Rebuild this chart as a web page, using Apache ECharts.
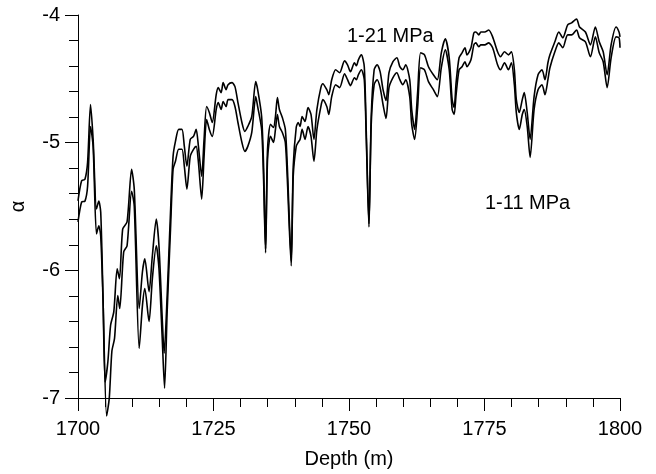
<!DOCTYPE html>
<html>
<head>
<meta charset="utf-8">
<script src="https://cdn.jsdelivr.net/npm/echarts@6/dist/echarts.min.js"></script>
<style>
  html, body { margin: 0; padding: 0; background: #fff; }
  #chart { width: 656px; height: 474px; }
</style>
</head>
<body>
<div id="chart"></div>
<script>
// depth (m) and alpha for the 1-21 MPa curve (upper)
const depth21 = [1700.00, 1700.67, 1701.28, 1701.77, 1702.31, 1702.79, 1703.41, 1703.83, 1704.19, 1704.61,
  1705.01, 1705.52, 1706.01, 1706.61, 1707.23, 1707.65, 1708.25, 1709.05, 1709.89, 1710.38,
  1711.29, 1711.89, 1712.33, 1713.11, 1713.72, 1714.44, 1714.94, 1715.54, 1715.90, 1716.45,
  1717.07, 1717.54, 1717.98, 1718.58, 1719.18, 1719.62, 1720.09, 1720.71, 1721.31, 1721.80,
  1722.22, 1722.82, 1723.26, 1723.73, 1724.23, 1724.77, 1725.50, 1725.87, 1726.41, 1726.78,
  1727.32, 1727.69, 1728.42, 1728.96, 1729.51, 1730.24, 1730.78, 1731.33, 1732.06, 1732.79,
  1733.15, 1733.88, 1734.24, 1734.61, 1734.97, 1735.52, 1736.07, 1736.43, 1736.79, 1737.16,
  1737.70, 1738.25, 1738.62, 1739.34, 1739.71, 1740.26, 1740.62, 1740.98, 1741.35, 1741.89,
  1742.44, 1742.99, 1743.53, 1744.08, 1744.81, 1745.17, 1745.90, 1746.27, 1746.81, 1747.54,
  1748.27, 1749.18, 1749.73, 1750.27, 1751.00, 1751.37, 1751.73, 1752.28, 1752.82, 1753.19,
  1753.68, 1754.10, 1754.64, 1755.19, 1755.74, 1756.28, 1756.83, 1757.38, 1758.11, 1758.83,
  1759.38, 1759.93, 1760.47, 1761.20, 1761.57, 1762.11, 1762.66, 1763.21, 1763.93, 1764.66,
  1765.57, 1766.30, 1767.03, 1767.76, 1768.49, 1769.03, 1769.40, 1769.76, 1770.31, 1770.86,
  1771.40, 1771.77, 1772.50, 1773.04, 1773.41, 1773.95, 1774.32, 1775.05, 1775.77, 1776.50,
  1777.41, 1777.96, 1778.69, 1779.42, 1779.96, 1780.51, 1780.87, 1781.42, 1781.97, 1782.33,
  1782.88, 1783.42, 1784.15, 1784.88, 1785.61, 1786.16, 1786.70, 1787.07, 1787.98, 1788.71,
  1789.44, 1790.35, 1791.07, 1791.99, 1792.53, 1793.62, 1794.54, 1795.45, 1796.17, 1796.90,
  1797.63, 1798.36, 1799.27, 1799.82, 1800.00]
const alpha21 = [-5.455, -5.299, -5.286, -5.154, -4.701, -4.974, -5.520, -5.458, -5.543, -6.198,
  -6.876, -6.712, -6.432, -6.323, -5.988, -6.065, -5.676, -5.621, -5.208, -5.364,
  -6.299, -6.011, -5.910, -6.167, -5.886, -5.598, -5.808, -6.377, -6.650, -6.198,
  -5.543, -5.107, -4.990, -4.896, -4.896, -5.029, -5.185, -4.974, -4.951, -4.896,
  -5.029, -5.263, -4.974, -4.717, -4.764, -4.842, -4.624, -4.569, -4.608, -4.530,
  -4.585, -4.546, -4.530, -4.561, -4.686, -4.842, -4.912, -4.873, -4.795, -4.522,
  -4.585, -4.795, -5.185, -5.832, -5.052, -4.857, -4.881, -4.795, -4.647, -4.740,
  -4.803, -4.896, -5.185, -5.925, -5.185, -4.881, -4.842, -4.873, -4.795, -4.834,
  -4.725, -4.779, -4.974, -4.740, -4.569, -4.538, -4.585, -4.624, -4.507, -4.429,
  -4.452, -4.359, -4.390, -4.444, -4.374, -4.398, -4.351, -4.312, -4.405, -4.920,
  -5.637, -4.795, -4.429, -4.390, -4.444, -4.585, -4.670, -4.452, -4.366, -4.335,
  -4.405, -4.429, -4.390, -4.507, -4.740, -4.896, -4.608, -4.296, -4.312, -4.405,
  -4.468, -4.507, -4.296, -4.187, -4.335, -4.663, -4.725, -4.530, -4.335, -4.296,
  -4.257, -4.312, -4.257, -4.140, -4.133, -4.156, -4.133, -4.133, -4.117, -4.171,
  -4.288, -4.327, -4.288, -4.312, -4.288, -4.429, -4.663, -4.764, -4.663, -4.608,
  -4.764, -4.974, -4.639, -4.468, -4.429, -4.507, -4.374, -4.312, -4.210, -4.133,
  -4.179, -4.078, -4.062, -4.031, -4.094, -4.133, -4.234, -4.094, -4.210, -4.288,
  -4.468, -4.234, -4.094, -4.133, -4.171]

// depth (m) and alpha for the 1-11 MPa curve (lower)
const depth11 = [1700.00, 1700.67, 1701.28, 1701.77, 1702.31, 1702.79, 1703.41, 1703.83, 1704.19, 1704.61,
  1705.28, 1705.77, 1706.25, 1706.74, 1707.34, 1707.70, 1708.43, 1709.05, 1709.89, 1710.38,
  1711.29, 1711.89, 1712.33, 1713.11, 1713.72, 1714.44, 1714.94, 1715.54, 1715.97, 1716.45,
  1717.07, 1717.54, 1717.98, 1718.58, 1719.18, 1719.62, 1720.09, 1720.71, 1721.31, 1721.80,
  1722.22, 1722.82, 1723.26, 1723.73, 1724.23, 1724.77, 1725.50, 1725.87, 1726.41, 1726.78,
  1727.32, 1727.69, 1728.42, 1728.96, 1729.51, 1730.24, 1730.78, 1731.33, 1732.06, 1732.79,
  1733.15, 1733.88, 1734.24, 1734.61, 1734.97, 1735.52, 1736.07, 1736.43, 1736.79, 1737.16,
  1737.70, 1738.25, 1738.62, 1739.34, 1739.71, 1740.26, 1740.62, 1740.98, 1741.35, 1741.89,
  1742.44, 1742.99, 1743.53, 1744.08, 1744.81, 1745.17, 1745.90, 1746.27, 1746.81, 1747.54,
  1748.27, 1749.18, 1749.73, 1750.27, 1751.00, 1751.37, 1751.73, 1752.28, 1752.82, 1753.19,
  1753.68, 1754.10, 1754.64, 1755.19, 1755.74, 1756.28, 1756.83, 1757.38, 1758.11, 1758.83,
  1759.38, 1759.93, 1760.47, 1761.20, 1761.57, 1762.11, 1762.66, 1763.21, 1763.93, 1764.66,
  1765.57, 1766.30, 1767.03, 1767.76, 1768.49, 1769.03, 1769.40, 1769.76, 1770.31, 1770.86,
  1771.40, 1771.77, 1772.50, 1773.04, 1773.41, 1773.95, 1774.32, 1775.05, 1775.77, 1776.50,
  1777.41, 1777.96, 1778.69, 1779.42, 1779.96, 1780.51, 1780.87, 1781.42, 1781.97, 1782.33,
  1782.88, 1783.42, 1784.15, 1784.88, 1785.61, 1786.16, 1786.70, 1787.07, 1787.98, 1788.71,
  1789.44, 1790.35, 1791.07, 1791.99, 1792.53, 1793.62, 1794.54, 1795.45, 1796.17, 1796.90,
  1797.63, 1798.36, 1799.27, 1799.82, 1800.00]
const alpha11 = [-5.621, -5.465, -5.458, -5.341, -4.873, -5.029, -5.715, -5.652, -5.730, -6.221,
  -7.141, -7.001, -6.634, -6.533, -6.198, -6.299, -5.855, -5.808, -5.380, -5.497,
  -6.611, -6.276, -6.143, -6.401, -6.065, -5.808, -5.988, -6.533, -6.923, -6.323,
  -5.676, -5.208, -5.146, -5.052, -5.052, -5.185, -5.364, -5.107, -5.052, -5.029,
  -5.154, -5.442, -5.107, -4.818, -4.896, -4.951, -4.740, -4.686, -4.740, -4.678,
  -4.717, -4.663, -4.663, -4.717, -4.842, -4.998, -5.068, -5.029, -4.920, -4.639,
  -4.717, -4.896, -5.286, -5.863, -5.130, -4.951, -4.998, -4.896, -4.779, -4.873,
  -4.920, -4.998, -5.286, -5.964, -5.263, -5.029, -4.998, -4.974, -4.896, -4.974,
  -4.873, -4.951, -5.146, -4.896, -4.717, -4.663, -4.717, -4.779, -4.639, -4.546,
  -4.569, -4.460, -4.507, -4.553, -4.491, -4.507, -4.468, -4.429, -4.507, -4.974,
  -5.660, -4.857, -4.546, -4.507, -4.569, -4.701, -4.811, -4.569, -4.491, -4.452,
  -4.507, -4.546, -4.507, -4.639, -4.857, -4.974, -4.725, -4.413, -4.429, -4.522,
  -4.585, -4.639, -4.413, -4.273, -4.429, -4.740, -4.779, -4.624, -4.429, -4.405,
  -4.366, -4.405, -4.351, -4.234, -4.218, -4.249, -4.234, -4.234, -4.218, -4.257,
  -4.390, -4.429, -4.374, -4.429, -4.374, -4.546, -4.764, -4.896, -4.779, -4.740,
  -4.873, -5.115, -4.740, -4.585, -4.546, -4.624, -4.507, -4.413, -4.288, -4.218,
  -4.257, -4.156, -4.156, -4.117, -4.179, -4.210, -4.327, -4.171, -4.296, -4.366,
  -4.569, -4.335, -4.171, -4.179, -4.257]

const xTicks = [1700, 1725, 1750, 1775, 1800]
const yTicks = [-7, -6, -5, -4]
const seriesNames = ['1-21 MPa', '1-11 MPa']

const FONT = '"Liberation Sans", Arial, Helvetica, sans-serif'
const chart = echarts.init(document.getElementById('chart'), null, { renderer: 'canvas' })

const axisCommon = {
  axisLine: { show: true, onZero: false, lineStyle: { color: '#000', width: 1 } },
  axisTick: { show: true, inside: false, length: 13, lineStyle: { color: '#000', width: 1 } },
  minorTick: { show: true, splitNumber: 5, length: 9, lineStyle: { color: '#000', width: 1 } },
  splitLine: { show: false },
  minorSplitLine: { show: false },
}

chart.setOption({
  animation: false,
  backgroundColor: '#fff',
  grid: { left: 71, right: 36, top: 15, bottom: 74 },
  xAxis: {
    type: 'value',
    min: xTicks[0],
    max: xTicks[xTicks.length - 1],
    interval: 25,
    name: 'Depth (m)',
    nameLocation: 'middle',
    nameGap: 51,
    nameTextStyle: { color: '#000', fontSize: 20, fontFamily: FONT },
    axisLabel: { color: '#000', fontSize: 20, fontFamily: FONT, margin: 21, formatter: v => String(v) },
    ...axisCommon,
  },
  yAxis: {
    type: 'value',
    min: yTicks[0],
    max: yTicks[yTicks.length - 1],
    interval: 1,
    name: 'α',
    nameLocation: 'middle',
    nameRotate: 90,
    nameGap: 50,
    nameTextStyle: { color: '#000', fontSize: 20, fontFamily: FONT },
    axisLabel: { color: '#000', fontSize: 20, fontFamily: FONT, margin: 18, formatter: v => String(v) },
    ...axisCommon,
  },
  series: [
    {
      name: seriesNames[0],
      type: 'line',
      data: depth21.map((d, i) => [d, alpha21[i]]),
      showSymbol: false,
      smooth: 0.25,
      clip: false,
      lineStyle: { color: '#000', width: 1.6 },
    },
    {
      name: seriesNames[1],
      type: 'line',
      data: depth11.map((d, i) => [d, alpha11[i]]),
      showSymbol: false,
      smooth: 0.25,
      clip: false,
      lineStyle: { color: '#000', width: 1.6 },
    },
  ],
  graphic: [
    { type: 'text', left: 347, top: 26, style: { text: seriesNames[0], fill: '#000', font: '20px ' + FONT } },
    { type: 'text', left: 485, top: 193, style: { text: seriesNames[1], fill: '#000', font: '20px ' + FONT } },
  ],
})
</script>
</body>
</html>
